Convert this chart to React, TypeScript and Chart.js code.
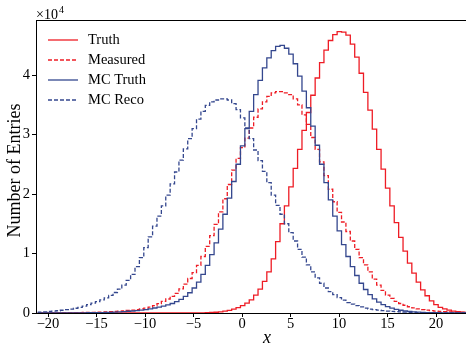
import React, { useEffect, useRef } from "react";
import { Chart, registerables } from "chart.js";

Chart.register(...registerables);

// Histogram binning (lower edge of first bin and bin width, in x units)
const BIN_LO = -21.0;
const BIN_WIDTH = 0.453;

const seriesLabels = ["Truth", "Measured", "MC Truth", "MC Reco"];

const truth = [
  0, 0, 0, 0, 0, 0, 0, 0, 0, 0,
  0, 0, 0, 0, 0, 0, 0, 0, 0, 0,
  0, 0, 0, 0, 0, 0, 0, 0, 0, 0,
  1, 2, 3, 4, 6, 10, 20, 30, 50, 80,
  130, 200, 300, 440, 640, 900, 1250, 1650, 2200, 3000,
  4000, 5300, 6900, 9100, 12000, 15000, 18000, 21200, 24300, 27500,
  30700, 33700, 36600, 39500, 42100, 44200, 45800, 46800, 47300, 47200,
  46700, 45200, 43000, 40300, 37100, 34100, 30900, 27500, 24200, 21000,
  18000, 15200, 12700, 10400, 8400, 6700, 5200, 3900, 2900, 2050,
  1400, 950, 680, 470, 320, 210, 140, 90,
];

const measured = [
  20, 24, 28, 32, 37, 42, 48, 55, 62, 70,
  80, 95, 110, 130, 150, 180, 215, 255, 300, 360,
  420, 500, 580, 690, 830, 1000, 1250, 1560, 1950, 2350,
  2800, 3300, 4050, 4850, 5800, 6800, 8000, 9500, 11200, 13000,
  14900, 17000, 19200, 21600, 24000, 26000, 27800, 29400, 31100, 32900,
  34300, 35500, 36400, 37000, 37200, 37200, 37000, 36700, 36000, 35000,
  33300, 31700, 29500, 27500, 25400, 23100, 20800, 18700, 16900, 15300,
  13700, 12100, 10700, 9300, 8100, 6900, 5700, 4700, 3800, 3000,
  2450, 1950, 1600, 1300, 1050, 850, 700, 580, 480, 400,
  330, 270, 220, 180, 150, 120, 95, 75,
];

const mcTruth = [
  2, 3, 4, 5, 7, 9, 12, 15, 19, 24,
  30, 38, 48, 60, 75, 95, 120, 150, 190, 240,
  290, 340, 400, 480, 580, 700, 840, 1000, 1150, 1350,
  1600, 1900, 2300, 2800, 3400, 4200, 5200, 6500, 8000, 9800,
  11800, 14100, 16600, 19300, 22100, 25000, 28100, 31000, 33900, 36700,
  39100, 41200, 42900, 44100, 44800, 45000, 44500, 43500, 41900, 39800,
  37300, 34500, 31400, 28200, 25000, 21900, 19000, 16300, 13800, 11500,
  9500, 7800, 6300, 5000, 3950, 3080, 2380, 1830, 1400, 1070,
  810, 610, 460, 340, 250, 185, 135, 100, 72, 52,
  38, 27, 19, 13, 9, 6, 4, 3,
];

const mcReco = [
  160, 200, 250, 310, 380, 460, 560, 660, 800, 950,
  1150, 1400, 1650, 1900, 2200, 2550, 2950, 3450, 4000, 4700,
  5500, 6500, 7800, 9300, 11000, 12800, 14600, 16300, 18000, 19800,
  21700, 23700, 25700, 27600, 29300, 31000, 32600, 33900, 34900, 35500,
  35800, 36000, 36000, 35800, 35200, 34200, 32800, 31100, 29300, 27400,
  25600, 23800, 21900, 19800, 18100, 16600, 15000, 13500, 12100, 10700,
  9400, 8100, 6900, 5900, 5000, 4200, 3600, 3100, 2600, 2150,
  1750, 1480, 1250, 1020, 820, 660, 560, 480, 400, 330,
  270, 220, 180, 145, 115, 90, 70, 55, 45, 35,
  28, 22, 17, 13, 10, 8, 6, 5,
];

const xTicks = [-20, -15, -10, -5, 0, 5, 10, 15, 20];
const yTicks = [0, 10000, 20000, 30000, 40000];
const X_MIN = -21.24;
const X_MAX = 23.09;
const Y_MAX = 49250;

const RED = "#ee1c25";
const BLUE = "#34478e";
const FONT = "'Liberation Serif', 'DejaVu Serif', serif";

function toSteps(values: number[]) {
  const pts: { x: number; y: number }[] = [{ x: BIN_LO, y: 0 }];
  values.forEach((v, i) => pts.push({ x: BIN_LO + i * BIN_WIDTH, y: v }));
  const end = BIN_LO + values.length * BIN_WIDTH;
  pts.push({ x: end, y: values[values.length - 1] });
  pts.push({ x: end, y: 0 });
  return pts;
}

const styles = [
  { color: RED, dash: [] as number[] },
  { color: RED, dash: [4, 2] },
  { color: BLUE, dash: [] as number[] },
  { color: BLUE, dash: [4, 2] },
];

const overlayPlugin = {
  id: "overlay",
  afterDraw(chart: any) {
    const { ctx, chartArea } = chart;
    ctx.save();
    // top spine
    ctx.strokeStyle = "#000";
    ctx.lineWidth = 1;
    ctx.beginPath();
    ctx.moveTo(chartArea.left, chartArea.top + 0.5);
    ctx.lineTo(chartArea.right, chartArea.top + 0.5);
    ctx.stroke();

    ctx.fillStyle = "#000";
    // multiplier label
    ctx.font = `14px ${FONT}`;
    ctx.textBaseline = "alphabetic";
    ctx.textAlign = "left";
    ctx.fillText("×10", 36, 19);
    const w = ctx.measureText("×10").width;
    ctx.font = `10px ${FONT}`;
    ctx.fillText("4", 36 + w + 1, 13);

    // y title
    ctx.font = `18px ${FONT}`;
    ctx.save();
    ctx.translate(15, (chartArea.top + chartArea.bottom) / 2 + 4);
    ctx.rotate(-Math.PI / 2);
    ctx.textAlign = "center";
    ctx.textBaseline = "middle";
    ctx.fillText("Number of Entries", 0, 0);
    ctx.restore();

    // x title
    ctx.font = `italic 18px ${FONT}`;
    ctx.textAlign = "center";
    ctx.textBaseline = "middle";
    ctx.fillText("x", (chartArea.left + chartArea.right) / 2 + 16, 338);

    // legend
    ctx.font = `14.5px ${FONT}`;
    ctx.textAlign = "left";
    ctx.textBaseline = "middle";
    seriesLabels.forEach((label, i) => {
      const y = 40 + i * 20;
      ctx.strokeStyle = styles[i].color;
      ctx.lineWidth = 1.3;
      ctx.setLineDash(styles[i].dash);
      ctx.beginPath();
      ctx.moveTo(48, y);
      ctx.lineTo(78, y);
      ctx.stroke();
      ctx.setLineDash([]);
      ctx.fillStyle = "#000";
      ctx.fillText(label, 88, y);
    });
    ctx.restore();
  },
};

export default function App() {
  const ref = useRef<HTMLCanvasElement | null>(null);

  useEffect(() => {
    if (!ref.current) return;
    const series = [truth, measured, mcTruth, mcReco];
    const chart = new Chart(ref.current, {
      type: "line",
      data: {
        datasets: series.map((vals, i) => ({
          label: seriesLabels[i],
          data: toSteps(vals),
          borderColor: styles[i].color,
          borderDash: styles[i].dash,
          borderWidth: 1.3,
          stepped: true,
          pointRadius: 0,
          fill: false,
          order: 4 - i,
        })),
      },
      options: {
        animation: false,
        responsive: false,
        devicePixelRatio: 1,
        layout: { padding: { top: 20, left: 0, right: 0, bottom: 0 } },
        plugins: { legend: { display: false }, tooltip: { enabled: false } },
        scales: {
          x: {
            type: "linear",
            min: X_MIN,
            max: X_MAX,
            afterBuildTicks: (s: any) => {
              s.ticks = xTicks.map((v) => ({ value: v }));
            },
            afterFit: (s: any) => {
              s.height = 30;
            },
            ticks: {
              color: "#000",
              font: { family: FONT, size: 14.5 },
              padding: -2,
              maxRotation: 0,
              autoSkip: false,
              callback: (v: any) => (Number(v) < 0 ? "−" + Math.abs(Number(v)) : String(v)),
            },
            grid: { display: true, drawOnChartArea: false, drawTicks: true, tickLength: 4, color: "#000" },
            border: { display: true, color: "#000", width: 1 },
          },
          y: {
            type: "linear",
            min: 0,
            max: Y_MAX,
            afterBuildTicks: (s: any) => {
              s.ticks = yTicks.map((v) => ({ value: v }));
            },
            afterFit: (s: any) => {
              s.width = 36;
            },
            ticks: {
              color: "#000",
              font: { family: FONT, size: 14.5 },
              padding: 2,
              callback: (v: any) => String(Number(v) / 10000),
            },
            grid: { display: true, drawOnChartArea: false, drawTicks: true, tickLength: 4, color: "#000" },
            border: { display: true, color: "#000", width: 1 },
          },
        },
      },
      plugins: [overlayPlugin],
    });
    return () => chart.destroy();
  }, []);

  return (
    <div style={{ position: "absolute", left: 0, top: 0, width: 466, height: 343, background: "#fff" }}>
      <canvas ref={ref} width={466} height={343} style={{ display: "block" }} />
    </div>
  );
}
